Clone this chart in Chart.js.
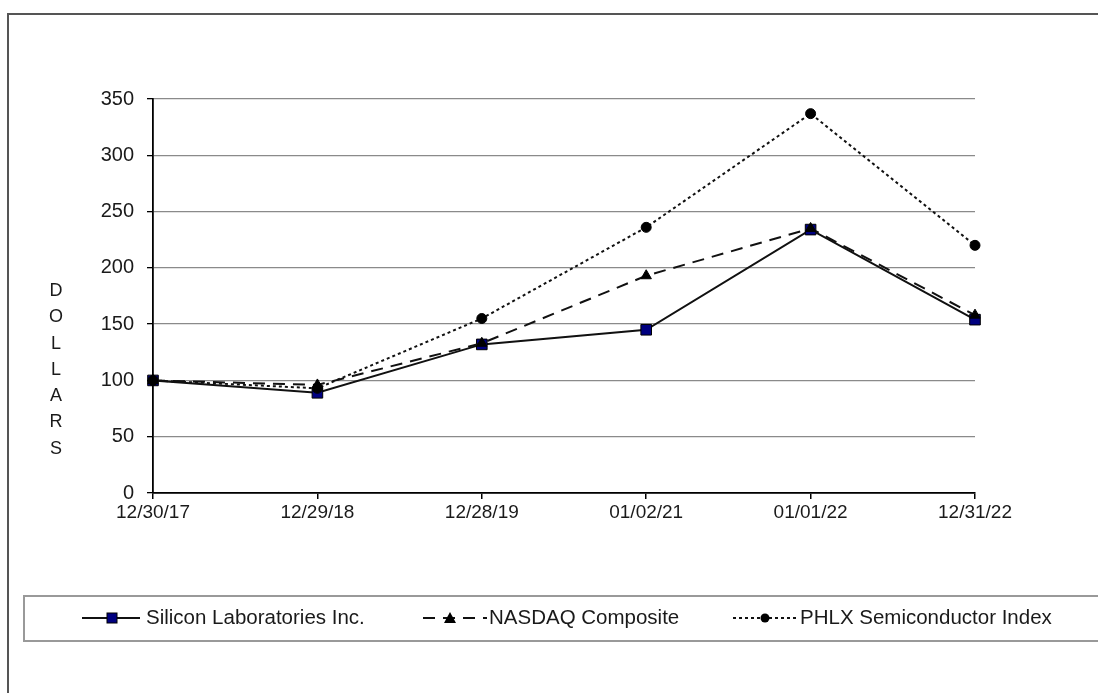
<!DOCTYPE html>
<html>
<head>
<meta charset="utf-8">
<script src="https://cdn.jsdelivr.net/npm/chart.js@4"></script>
<style>
html,body{margin:0;padding:0;background:#fff;}
#wrap{position:relative;width:1098px;height:693px;}
</style>
</head>
<body>
<div id="wrap"><canvas id="perfChart" width="1098" height="693"></canvas></div>
<script>
/* ================= DATA ================= */

const dateLabels=["12/30/17","12/29/18","12/28/19","01/02/21","01/01/22","12/31/22"];
const yTicks=[0,50,100,150,200,250,300,350];

const siliconLabs=[100,89,132,145,234,154];
const nasdaqComposite=[100,96,133,193,235,158];
const phlxSemi=[100,93,155,236,337,220];

const seriesNames=["Silicon Laboratories Inc.","NASDAQ Composite","PHLX Semiconductor Index"];

const FONT="'Liberation Sans', Arial, sans-serif";


/* ================= FRAME + LEGEND + AXIS WORD ================= */

const framePlugin={
id:"frame",
afterDraw(chart){
const ctx=chart.ctx;
ctx.save();

// outer frame (only top and left show in the picture)
ctx.strokeStyle="#555";
ctx.lineWidth=2;
ctx.beginPath();
ctx.moveTo(8,693);
ctx.lineTo(8,14);
ctx.lineTo(1098,14);
ctx.stroke();

// legend box
ctx.strokeStyle="#999";
ctx.lineWidth=2;
ctx.beginPath();
ctx.moveTo(1098,596);
ctx.lineTo(24,596);
ctx.lineTo(24,641);
ctx.lineTo(1098,641);
ctx.stroke();

// vertical DOLLARS
ctx.fillStyle="#1a1a1a";
ctx.font="18px "+FONT;
ctx.textAlign="center";
ctx.textBaseline="middle";
"DOLLARS".split("").forEach((ch,i)=>{
ctx.fillText(ch,56,291+i*26.3);
});

// legend items
const y=618;
const items=[
{x1:82,x2:140,mx:112,dash:[],marker:"rect",text:seriesNames[0],tx:146},
{x1:423,x2:487,mx:450,dash:[12,8],marker:"triangle",text:seriesNames[1],tx:489},
{x1:733,x2:797,mx:765,dash:[3,3],marker:"circle",text:seriesNames[2],tx:800}
];
items.forEach(it=>{
ctx.strokeStyle="#111";
ctx.lineWidth=2;
ctx.setLineDash(it.dash);
ctx.beginPath();
ctx.moveTo(it.x1,y);
ctx.lineTo(it.x2,y);
ctx.stroke();
ctx.setLineDash([]);
if(it.marker==="rect"){
ctx.fillStyle="#000080";
ctx.fillRect(it.mx-5,y-5,10,10);
ctx.strokeStyle="#000";
ctx.lineWidth=1;
ctx.strokeRect(it.mx-5,y-5,10,10);
}else if(it.marker==="triangle"){
ctx.fillStyle="#000";
ctx.beginPath();
ctx.moveTo(it.mx,y-6);
ctx.lineTo(it.mx+6,y+5);
ctx.lineTo(it.mx-6,y+5);
ctx.closePath();
ctx.fill();
}else{
ctx.fillStyle="#000";
ctx.beginPath();
ctx.arc(it.mx,y,4.5,0,Math.PI*2);
ctx.fill();
}
ctx.fillStyle="#1a1a1a";
ctx.font="20.5px "+FONT;
ctx.textAlign="left";
ctx.textBaseline="middle";
ctx.fillText(it.text,it.tx,y);
});

ctx.restore();
}
};


/* ================= CHART ================= */

function makeDataset(label,data,dash,pointStyle,pointColor,radius){
return{
label,
data,
borderColor:"#111",
borderWidth:2,
borderDash:dash,
pointStyle,
pointRadius:radius,
pointBackgroundColor:pointColor,
pointBorderColor:"#000",
pointBorderWidth:1,
tension:0,
fill:false
};
}

const canvas=document.getElementById("perfChart");

new Chart(canvas,{
type:"line",
data:{
labels:dateLabels,
datasets:[
makeDataset(seriesNames[2],phlxSemi,[3,3],"circle","#000",5),
makeDataset(seriesNames[1],nasdaqComposite,[12,8],"triangle","#000",6),
makeDataset(seriesNames[0],siliconLabs,[],"rect","#000080",7.5)
]
},
options:{
responsive:false,
animation:false,
layout:{padding:{left:0,top:99,right:123,bottom:0}},
plugins:{legend:{display:false},tooltip:{enabled:false}},
scales:{
x:{
type:"category",
offset:false,
afterFit(scale){scale.height=200;},
grid:{drawOnChartArea:false,tickColor:"#000",tickLength:6,lineWidth:1.5},
border:{color:"#000",width:1.8},
ticks:{color:"#1a1a1a",font:{family:FONT,size:19},padding:2,maxRotation:0,autoSkip:false}
},
y:{
min:0,
max:350,
afterFit(scale){scale.width=153;},
afterBuildTicks(scale){scale.ticks=yTicks.map(v=>({value:v}));},
grid:{color:"#8a8a8a",lineWidth:1.3,tickColor:"#000",tickLength:6},
border:{color:"#000",width:1.8},
ticks:{color:"#1a1a1a",font:{family:FONT,size:20},padding:13}
}
}
},
plugins:[framePlugin]
});
</script>
</body>
</html>
